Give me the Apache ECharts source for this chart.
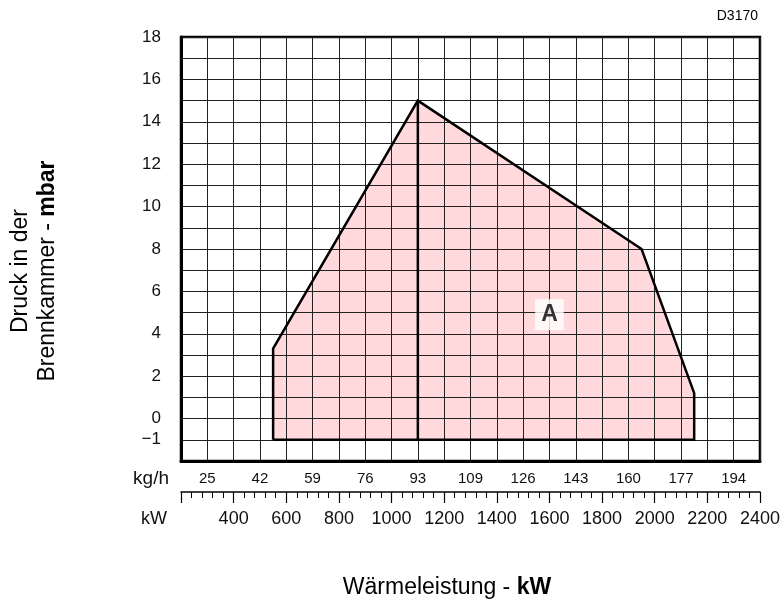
<!DOCTYPE html>
<html>
<head>
<meta charset="utf-8">
<script src="https://cdn.jsdelivr.net/npm/echarts@6/dist/echarts.min.js"></script>
<style>
  html, body { margin: 0; padding: 0; background: #fff; }
  #chart { width: 783px; height: 601px; }
</style>
</head>
<body>
<div id="chart"></div>
<script>
// working range envelope (kW / mbar)
const envelopeKw = [550, 550, 1100, 1950, 2150, 2150, 550]
const envelopeMbar = [-1, 3.3, 15, 8, 1.2, -1, -1]
// vertical divider inside the field
const dividerKw = [1100, 1100]
const dividerMbar = [-1, 15]
// field label
const fieldName = 'A'
const fieldAt = [1600, 4.9]

// tick labels
const yTickLabels = [-1, 0, 2, 4, 6, 8, 10, 12, 14, 16, 18]
const kwTicks = [400, 600, 800, 1000, 1200, 1400, 1600, 1800, 2000, 2200, 2400]
const kgKw = [300, 500, 700, 900, 1100, 1300, 1500, 1700, 1900, 2100, 2300]
const kgLabels = ['25', '42', '59', '76', '93', '109', '126', '143', '160', '177', '194']

const tickFont = 'Liberation Sans'
const titleFont = 'Liberation Sans'

const chart = echarts.init(document.getElementById('chart'))

const xBase = { type: 'value', gridIndex: 0, min: 200, max: 2400, position: 'bottom' }

const option = {
  animation: false,
  grid: {
    left: 181, right: 20, top: 37, bottom: 140,
    show: true, borderColor: '#000', borderWidth: 2.5
  },
  xAxis: [
    Object.assign({}, xBase, {
      interval: 100,
      z: 3,
      axisLine: { show: true, onZero: false, lineStyle: { color: '#000', width: 3 } },
      axisTick: { show: false },
      axisLabel: { show: false },
      splitLine: { show: true, lineStyle: { color: '#222', width: 1 } }
    }),
    Object.assign({}, xBase, {
      interval: 100,
      offset: 18,
      axisLine: { show: false, onZero: false },
      axisTick: { show: false },
      splitLine: { show: false },
      axisLabel: {
        margin: 0, verticalAlign: 'middle', color: '#111',
        fontFamily: tickFont, fontSize: 15,
        formatter: v => {
          const i = kgKw.indexOf(v)
          return i >= 0 ? kgLabels[i] : ''
        }
      },
      name: 'kg/h', nameLocation: 'start', nameGap: 12,
      nameTextStyle: { fontFamily: tickFont, fontSize: 19, color: '#111', verticalAlign: 'middle' }
    }),
    Object.assign({}, xBase, {
      interval: 200,
      offset: 31,
      axisLine: { show: true, onZero: false, lineStyle: { color: '#000', width: 1.5 } },
      axisTick: { show: true, length: 11, lineStyle: { color: '#000', width: 1.2 } },
      minorTick: { show: true, splitNumber: 5, length: 6, lineStyle: { color: '#000', width: 1 } },
      axisLabel: { show: false },
      splitLine: { show: false }
    }),
    Object.assign({}, xBase, {
      interval: 200,
      offset: 58,
      axisLine: { show: false, onZero: false },
      axisTick: { show: false },
      splitLine: { show: false },
      axisLabel: {
        margin: 0, verticalAlign: 'middle', color: '#111',
        fontFamily: tickFont, fontSize: 18,
        formatter: v => (kwTicks.indexOf(v) >= 0 ? String(v) : '')
      },
      name: 'kW', nameLocation: 'start', nameGap: 14,
      nameTextStyle: { fontFamily: tickFont, fontSize: 18, color: '#111', verticalAlign: 'middle' }
    })
  ],
  yAxis: {
    type: 'value',
    min: -2, max: 18, interval: 1,
    z: 3,
    axisLine: { show: true, onZero: false, lineStyle: { color: '#000', width: 3 } },
    axisTick: { show: false },
    splitLine: { show: true, lineStyle: { color: '#222', width: 1 } },
    axisLabel: {
      margin: 20, color: '#111', fontFamily: tickFont, fontSize: 17,
      formatter: v => {
        if (yTickLabels.indexOf(v) < 0) return ''
        return v < 0 ? '\u2212' + Math.abs(v) : String(v)
      }
    }
  },
  graphic: [
    {
      type: 'text', right: 25, top: 9,
      style: { text: 'D3170', fontFamily: titleFont, fontSize: 14, fill: '#000' }
    },
    {
      type: 'text', x: 447, y: 588,
      style: {
        text: 'Wärmeleistung - {b|kW}',
        fontFamily: titleFont, fontSize: 23, fill: '#000',
        align: 'center', verticalAlign: 'middle',
        rich: { b: { fontFamily: titleFont, fontSize: 23, fontWeight: 'bold', fill: '#000' } }
      }
    },
    {
      type: 'text', x: 34, y: 271, rotation: Math.PI / 2,
      style: {
        text: 'Druck in der\nBrennkammer - {b|mbar}',
        fontFamily: titleFont, fontSize: 23, lineHeight: 27, fill: '#000',
        align: 'center', verticalAlign: 'middle',
        rich: { b: { fontFamily: titleFont, fontSize: 23, lineHeight: 27, fontWeight: 'bold', fill: '#000' } }
      }
    }
  ],
  series: [
    {
      // pink field under the grid lines
      type: 'custom',
      z: 1,
      data: [[envelopeKw[0], envelopeMbar[0]]],
      renderItem(params, api) {
        const pts = envelopeKw.map((kw, i) => api.coord([kw, envelopeMbar[i]]))
        return {
          type: 'polygon',
          shape: { points: pts },
          style: { fill: '#ffd9db', stroke: null }
        }
      }
    },
    {
      type: 'line',
      z: 5,
      symbol: 'none',
      data: envelopeKw.map((kw, i) => [kw, envelopeMbar[i]]),
      lineStyle: { color: '#000', width: 2.5, join: 'miter' }
    },
    {
      type: 'line',
      z: 5,
      symbol: 'none',
      data: dividerKw.map((kw, i) => [kw, dividerMbar[i]]),
      lineStyle: { color: '#000', width: 2.5 }
    },
    {
      type: 'scatter',
      z: 6,
      symbolSize: 0,
      data: [fieldAt],
      label: {
        show: true, position: 'inside', formatter: fieldName,
        fontFamily: titleFont, fontSize: 23, fontWeight: 'bold', color: '#000',
        backgroundColor: '#fff', padding: [5, 6, 3, 6], lineHeight: 23
      }
    }
  ]
}

chart.setOption(option)
window.addEventListener('resize', () => chart.resize())
</script>
</body>
</html>
